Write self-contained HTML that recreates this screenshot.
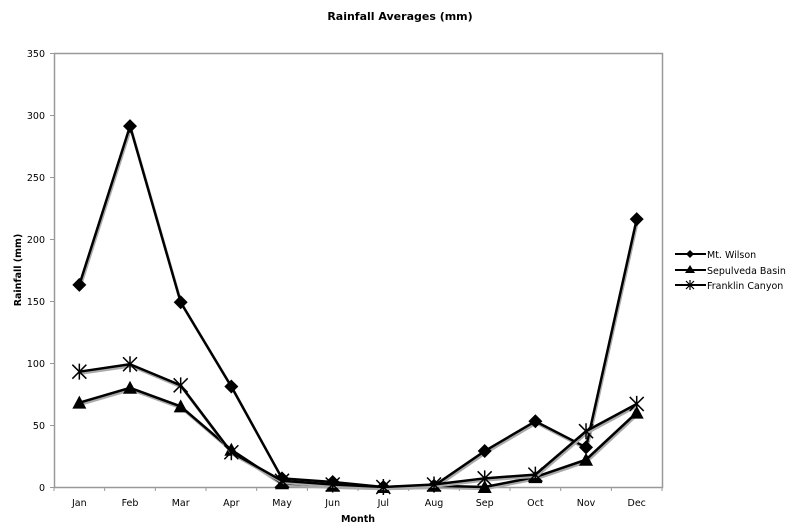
<!DOCTYPE html>
<html><head><style>body{margin:0;background:#fff}</style></head><body>
<svg width="800" height="526" xmlns="http://www.w3.org/2000/svg" font-family="DejaVu Sans, Liberation Sans, sans-serif">
<defs>
<path id="d" d="M0,-7 L7,0 L0,7 L-7,0Z"/>
<path id="t" d="M0,-7 L7,6 L-7,6Z"/>
<path id="x" d="M-7,-7L7,7M-7,7L7,-7M0,-8V8" stroke-width="1.5"/>
</defs>
<text x="400" y="20" font-size="11" font-weight="bold" text-anchor="middle">Rainfall Averages (mm)</text>
<rect x="54.5" y="53.5" width="608" height="434" fill="none" stroke="#999" stroke-width="1.5"/>
<g font-size="9.5" text-anchor="end">
<text x="45" y="491">0</text><text x="45" y="429">50</text><text x="45" y="367">100</text><text x="45" y="305">150</text><text x="45" y="243">200</text><text x="45" y="181">250</text><text x="45" y="119">300</text><text x="45" y="57">350</text>
</g>
<g stroke="#999"><path d="M50,487.5H54M50,425.5H54M50,363.5H54M50,301.5H54M50,239.5H54M50,177.5H54M50,115.5H54M50,53.5H54"/></g>
<g font-size="9.5" text-anchor="middle" id="months"></g>
<text x="358" y="522" font-size="9.5" font-weight="bold" text-anchor="middle">Month</text>
<text transform="translate(21,270) rotate(-90)" font-size="9.5" font-weight="bold" text-anchor="middle">Rainfall (mm)</text>
<g id="series"></g>
<g font-size="9.5">
<line x1="675" y1="254" x2="706" y2="254" stroke="#000" stroke-width="2"/>
<text x="707" y="258">Mt. Wilson</text>
<line x1="675" y1="270" x2="706" y2="270" stroke="#000" stroke-width="2"/>
<text x="707" y="274">Sepulveda Basin</text>
<line x1="675" y1="285" x2="706" y2="285" stroke="#000" stroke-width="2"/>
<text x="707" y="289">Franklin Canyon</text>
</g>
<path d="M690,250L694,254L690,258L686,254Z"/>
<path d="M690,265L695,273L685,273Z"/>
<path d="M686,281L694,289M686,289L694,281M690,280V290" stroke="#000" stroke-width="1.2"/>
</svg>
<script>
const M=["Jan","Feb","Mar","Apr","May","Jun","Jul","Aug","Sep","Oct","Nov","Dec"];
const cx=i=>54+50.67*(i+0.5), cy=v=>487-v*1.24;
let g=document.getElementById('months'),h='';
M.forEach((m,i)=>{h+=`<text x="${cx(i)}" y="506">${m}</text>`;});
for(let i=0;i<=12;i++){const x=54+50.67*i;h+=`<line x1="${x}" y1="487" x2="${x}" y2="491" stroke="#999"/>`;}
g.innerHTML=h;
const S=[["d",[163,291,149,81,7,4,0,1,29,53,32,216]],["t",[68,80,65,30,3,1,0,1,0,8,22,60]],["x",[93,99,82,28,5,2,0,2,7,10,45,67]]];
let s='';
S.forEach(([k,d])=>{
 const pts=d.map((v,i)=>cx(i)+','+cy(v)).join(' ');
 s+=`<polyline points="${pts}" fill="none" stroke="#aaa" stroke-width="2.5" transform="translate(1,2)"/>`;
 s+=`<polyline points="${pts}" fill="none" stroke="#000" stroke-width="2.5"/>`;
 d.forEach((v,i)=>{
  if(k=='x') s+=`<use href="#x" x="${cx(i)}" y="${cy(v)}" stroke="#000"/>`;
  else s+=`<use href="#${k}" x="${cx(i)}" y="${cy(v)}" fill="#000"/>`;
 });
});
document.getElementById('series').innerHTML=s;
</script>
</body></html>
